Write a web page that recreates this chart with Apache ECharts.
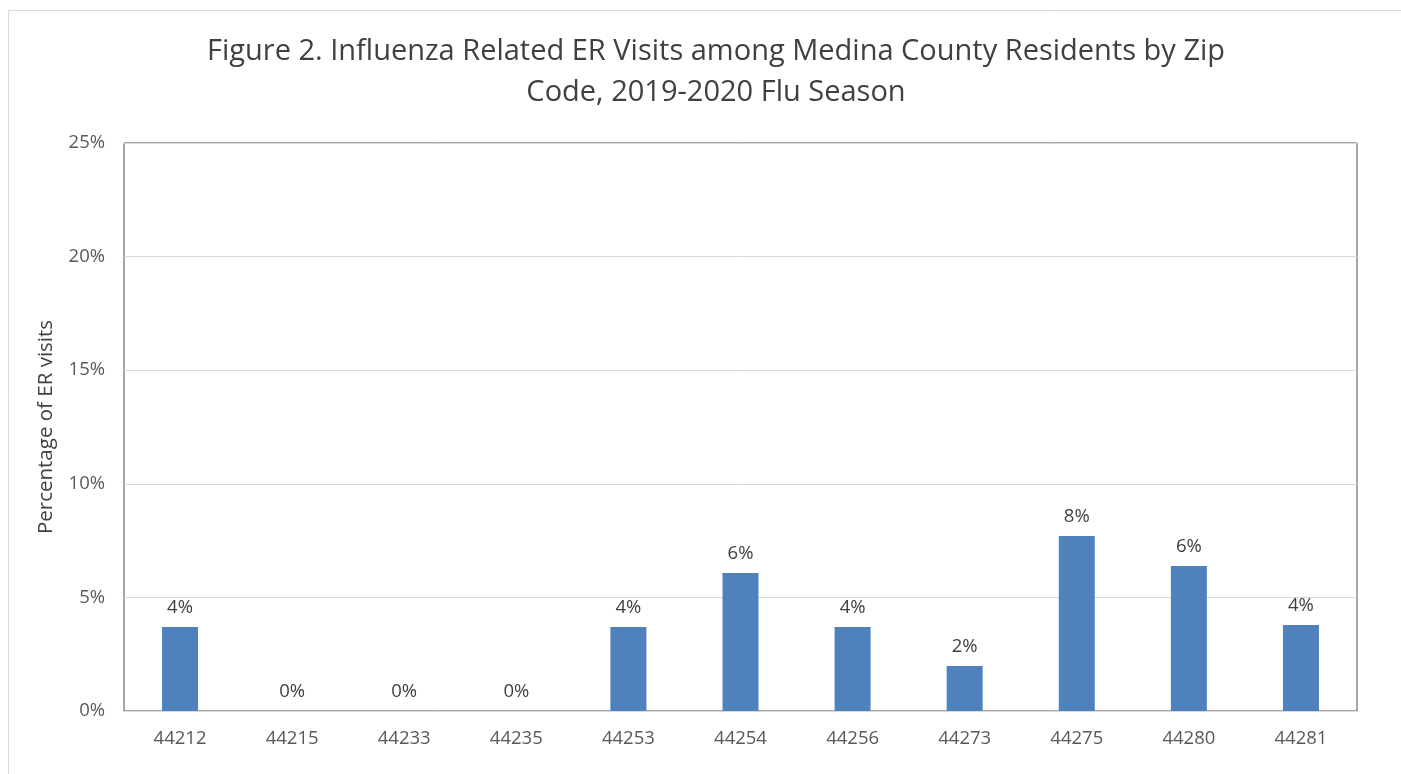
<!DOCTYPE html>
<html><head><meta charset="utf-8">
<script src="https://cdn.jsdelivr.net/npm/echarts@6/dist/echarts.min.js"></script>
<style>html,body{margin:0;padding:0;background:#fff}#c{width:1401px;height:774px}</style>
</head><body><div id="c"></div>
<script>
const categories = ['44212','44215','44233','44235','44253','44254','44256','44273','44275','44280','44281'];
const values = [3.7, 0, 0, 0, 3.7, 6.07, 3.7, 1.98, 7.7, 6.38, 3.79];
const titleText = 'Figure 2. Influenza Related ER Visits among Medina County Residents by Zip\nCode, 2019-2020 Flu Season';
const yAxisName = 'Percentage of ER visits';

const chart = echarts.init(document.getElementById('c'));
const font = '"Open Sans", sans-serif';
chart.setOption({
  animation: false,
  graphic: [{type:'rect', shape:{x:8.5,y:10.5,width:1400,height:800}, style:{fill:'none',stroke:'#d9d9d9',lineWidth:1}, z:-1}],
  title: {text: titleText, left: 711, top: 26, textAlign:'center',
    textStyle:{fontFamily:font, fontSize:29, fontWeight:'normal', color:'#404040', lineHeight:41}},
  grid: {left:124, right:44, top:143, bottom:63, show:true, borderColor:'#4d4d4d', borderWidth:1},
  xAxis: {type:'category', data:categories,
    axisLine:{lineStyle:{color:'#d9d9d9'}}, axisTick:{show:false},
    axisLabel:{fontFamily:font, fontSize:18.5, color:'#595959', margin:18}},
  yAxis: {type:'value', min:0, max:25, interval:5,
    name: yAxisName, nameLocation:'middle', nameGap:67, nameRotate:90,
    nameTextStyle:{fontFamily:font, fontSize:20.5, color:'#404040'},
    axisLine:{show:false}, axisTick:{show:false},
    axisLabel:{formatter:'{value}%', fontFamily:font, fontSize:18.5, color:'#595959', margin:19},
    splitLine:{lineStyle:{color:'#d9d9d9'}}},
  series: [{type:'bar', data:values, barWidth:36,
    itemStyle:{color:'#4f81bd'},
    label:{show:true, position:'top', distance:10, fontFamily:font, fontSize:18.5, color:'#404040',
      formatter: p => Math.round(p.value) + '%'}}]
});
</script></body></html>
